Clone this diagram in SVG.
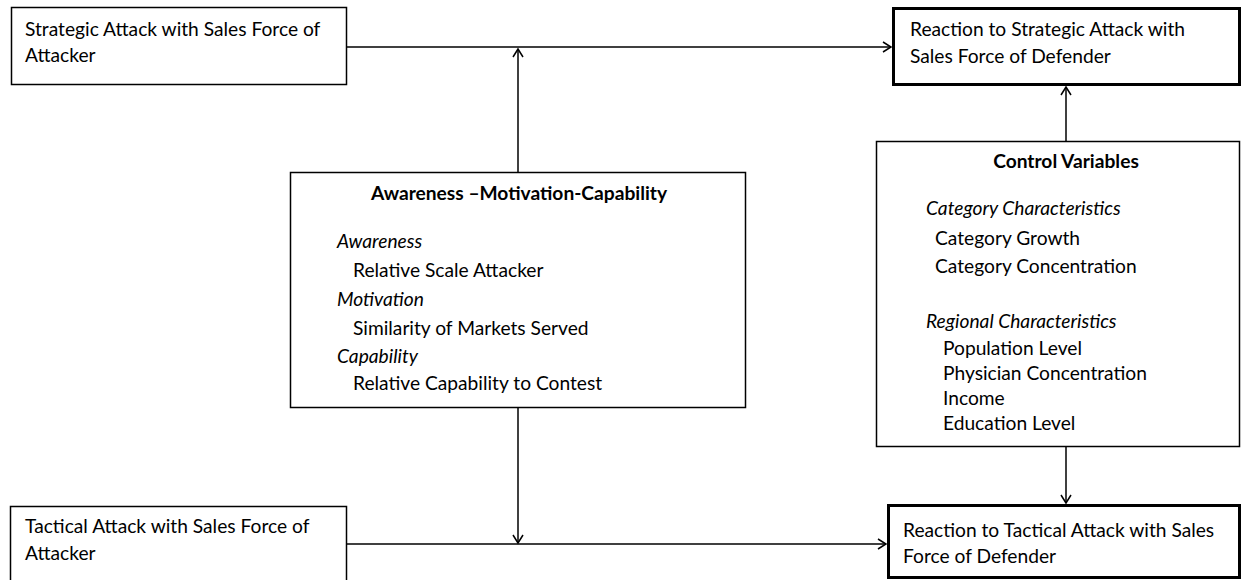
<svg xmlns="http://www.w3.org/2000/svg" width="1251" height="580" viewBox="0 0 1251 580">
<defs>
<style>
text{font-family:Lato,"Open Sans","Liberation Sans",sans-serif;font-size:19.2px;fill:#000}
.b{font-weight:bold}
.i{font-style:italic}
.box{fill:#fff;stroke:#000;stroke-width:1.5}
.thick{fill:#fff;stroke:#000;stroke-width:3}
.c{fill:none;stroke:#000;stroke-width:1.5}
</style>
<marker id="arr" markerWidth="12" markerHeight="12" refX="9" refY="6" orient="auto" markerUnits="userSpaceOnUse">
<path d="M1,1 L9,6 L1,11" fill="none" stroke="#000" stroke-width="1.5"/>
</marker>
</defs>
<rect width="1251" height="580" fill="#fff"/>
<g id="connectors">
<line class="c" x1="347" y1="47" x2="891" y2="47" marker-end="url(#arr)"/>
<line class="c" x1="518" y1="172" x2="518" y2="49" marker-end="url(#arr)"/>
<line class="c" x1="518" y1="408" x2="518" y2="543" marker-end="url(#arr)"/>
<line class="c" x1="347" y1="544" x2="886" y2="544" marker-end="url(#arr)"/>
<line class="c" x1="1066" y1="141" x2="1066" y2="87" marker-end="url(#arr)"/>
<line class="c" x1="1066" y1="447" x2="1066" y2="503" marker-end="url(#arr)"/>
</g>
<g id="strategic-attack">
<rect class="box" x="11.5" y="7.5" width="335" height="77"/>
<text x="25" y="36">Strategic Attack with Sales Force of</text>
<text x="25" y="62">Attacker</text>
</g>
<g id="reaction-strategic">
<rect class="thick" x="893.5" y="8.5" width="346" height="76"/>
<text x="910" y="36">Reaction to Strategic Attack with</text>
<text x="910" y="63">Sales Force of Defender</text>
</g>
<g id="amc">
<rect class="box" x="290.5" y="172.5" width="455" height="235"/>
<text class="b" x="519" y="200" text-anchor="middle">Awareness –Motivation-Capability</text>
<text class="i" x="337" y="248">Awareness</text>
<text x="353" y="277">Relative Scale Attacker</text>
<text class="i" x="337" y="306">Motivation</text>
<text x="353" y="335">Similarity of Markets Served</text>
<text class="i" x="337" y="363">Capability</text>
<text x="353" y="390">Relative Capability to Contest</text>
</g>
<g id="control-variables">
<rect class="box" x="876.5" y="141.5" width="363" height="305"/>
<text class="b" x="1066" y="168" text-anchor="middle">Control Variables</text>
<text class="i" x="926" y="215">Category Characteristics</text>
<text x="935" y="245">Category Growth</text>
<text x="935" y="273">Category Concentration</text>
<text class="i" x="926" y="328">Regional Characteristics</text>
<text x="943" y="355">Population Level</text>
<text x="943" y="380">Physician Concentration</text>
<text x="943" y="405">Income</text>
<text x="943" y="430">Education Level</text>
</g>
<g id="tactical-attack">
<rect class="box" x="10.5" y="506.5" width="336" height="90"/>
<text x="25" y="533">Tactical Attack with Sales Force of</text>
<text x="25" y="560">Attacker</text>
</g>
<g id="reaction-tactical">
<rect class="thick" x="888.5" y="505.5" width="351" height="72"/>
<text x="903" y="537">Reaction to Tactical Attack with Sales</text>
<text x="903" y="563">Force of Defender</text>
</g>
</svg>
